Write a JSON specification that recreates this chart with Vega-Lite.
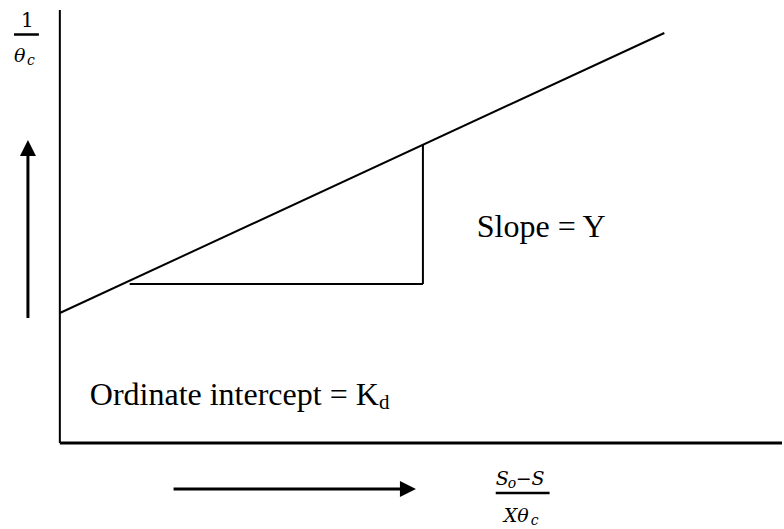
{
  "$schema": "https://vega.github.io/schema/vega-lite/v6.json",
  "width": 784,
  "height": 529,
  "padding": 0,
  "autosize": {"type": "fit", "contains": "padding"},
  "background": "white",
  "config": {"view": {"stroke": null}},
  "encoding": {
    "x": {"type": "quantitative", "scale": {"domain": [-60, 724], "nice": false, "zero": false}, "axis": null},
    "y": {"type": "quantitative", "scale": {"domain": [-86, 443], "nice": false, "zero": false}, "axis": null}
  },
  "layer": [
    {
      "data": {"values": [{"x": 0, "y": 0, "x2": 0, "y2": 433}]},
      "mark": {"type": "rule", "color": "#000", "strokeWidth": 2},
      "encoding": {"x": {"field": "x"}, "y": {"field": "y"}, "x2": {"field": "x2"}, "y2": {"field": "y2"}}
    },
    {
      "data": {"values": [{"x": 0, "y": 0, "x2": 724, "y2": 0}]},
      "mark": {"type": "rule", "color": "#000", "strokeWidth": 3},
      "encoding": {"x": {"field": "x"}, "y": {"field": "y"}, "x2": {"field": "x2"}, "y2": {"field": "y2"}}
    },
    {
      "data": {"values": [{"x": 0, "y": 130}, {"x": 606, "y": 410}]},
      "mark": {"type": "line", "color": "#000", "strokeWidth": 2},
      "encoding": {"x": {"field": "x"}, "y": {"field": "y"}}
    },
    {
      "data": {"values": [
        {"x": 70, "y": 159, "x2": 364, "y2": 159},
        {"x": 364, "y": 159, "x2": 364, "y2": 298}
      ]},
      "mark": {"type": "rule", "color": "#000", "strokeWidth": 2},
      "encoding": {"x": {"field": "x"}, "y": {"field": "y"}, "x2": {"field": "x2"}, "y2": {"field": "y2"}}
    },
    {
      "data": {"values": [
        {"x": -32, "y": 125, "x2": -32, "y2": 292},
        {"x": 114, "y": -46, "x2": 346, "y2": -46}
      ]},
      "mark": {"type": "rule", "color": "#000", "strokeWidth": 3},
      "encoding": {"x": {"field": "x"}, "y": {"field": "y"}, "x2": {"field": "x2"}, "y2": {"field": "y2"}}
    },
    {
      "data": {"values": [{"x": -32, "y": 295}]},
      "mark": {"type": "point", "shape": "M-1,1L0,-1L1,1Z", "size": 256, "filled": true, "color": "#000", "opacity": 1},
      "encoding": {"x": {"field": "x"}, "y": {"field": "y"}}
    },
    {
      "data": {"values": [{"x": 349, "y": -46}]},
      "mark": {"type": "point", "shape": "M-1,-1L1,0L-1,1Z", "size": 256, "filled": true, "color": "#000", "opacity": 1},
      "encoding": {"x": {"field": "x"}, "y": {"field": "y"}}
    },
    {
      "data": {"values": [
        {"x": -46, "y": 408.5, "x2": -21, "y2": 408.5},
        {"x": 437, "y": -50, "x2": 491, "y2": -50}
      ]},
      "mark": {"type": "rule", "color": "#000", "strokeWidth": 2.5},
      "encoding": {"x": {"field": "x"}, "y": {"field": "y"}, "x2": {"field": "x2"}, "y2": {"field": "y2"}}
    },
    {
      "data": {"values": [
        {"x": 418, "y": 206, "t": "Slope = Y"},
        {"x": 30, "y": 38, "t": "Ordinate intercept = K"}
      ]},
      "mark": {"type": "text", "font": "Liberation Serif", "fontSize": 32, "align": "left", "baseline": "alphabetic", "color": "#000"},
      "encoding": {"x": {"field": "x"}, "y": {"field": "y"}, "text": {"field": "t"}}
    },
    {
      "data": {"values": [
        {"x": 320, "y": 34, "t": "d"}
      ]},
      "mark": {"type": "text", "font": "Liberation Serif", "fontSize": 21, "align": "left", "baseline": "alphabetic", "color": "#000"},
      "encoding": {"x": {"field": "x"}, "y": {"field": "y"}, "text": {"field": "t"}}
    },
    {
      "data": {"values": [
        {"x": -39, "y": 416, "t": "1"}
      ]},
      "mark": {"type": "text", "font": "DejaVu Serif", "fontSize": 20, "align": "left", "baseline": "alphabetic", "color": "#000"},
      "encoding": {"x": {"field": "x"}, "y": {"field": "y"}, "text": {"field": "t"}}
    },
    {
      "data": {"values": [
        {"x": -46, "y": 381, "t": "θ"},
        {"x": 437, "y": -42, "t": "S"},
        {"x": 457, "y": -42, "t": "−S"},
        {"x": 445, "y": -79, "t": "Xθ"}
      ]},
      "mark": {"type": "text", "font": "DejaVu Serif", "fontStyle": "italic", "fontSize": 19, "align": "left", "baseline": "alphabetic", "color": "#000"},
      "encoding": {"x": {"field": "x"}, "y": {"field": "y"}, "text": {"field": "t"}}
    },
    {
      "data": {"values": [
        {"x": -33, "y": 378, "t": "c"},
        {"x": 449, "y": -45, "t": "o"},
        {"x": 472, "y": -82, "t": "c"}
      ]},
      "mark": {"type": "text", "font": "DejaVu Serif", "fontStyle": "italic", "fontSize": 14, "align": "left", "baseline": "alphabetic", "color": "#000"},
      "encoding": {"x": {"field": "x"}, "y": {"field": "y"}, "text": {"field": "t"}}
    }
  ]
}
